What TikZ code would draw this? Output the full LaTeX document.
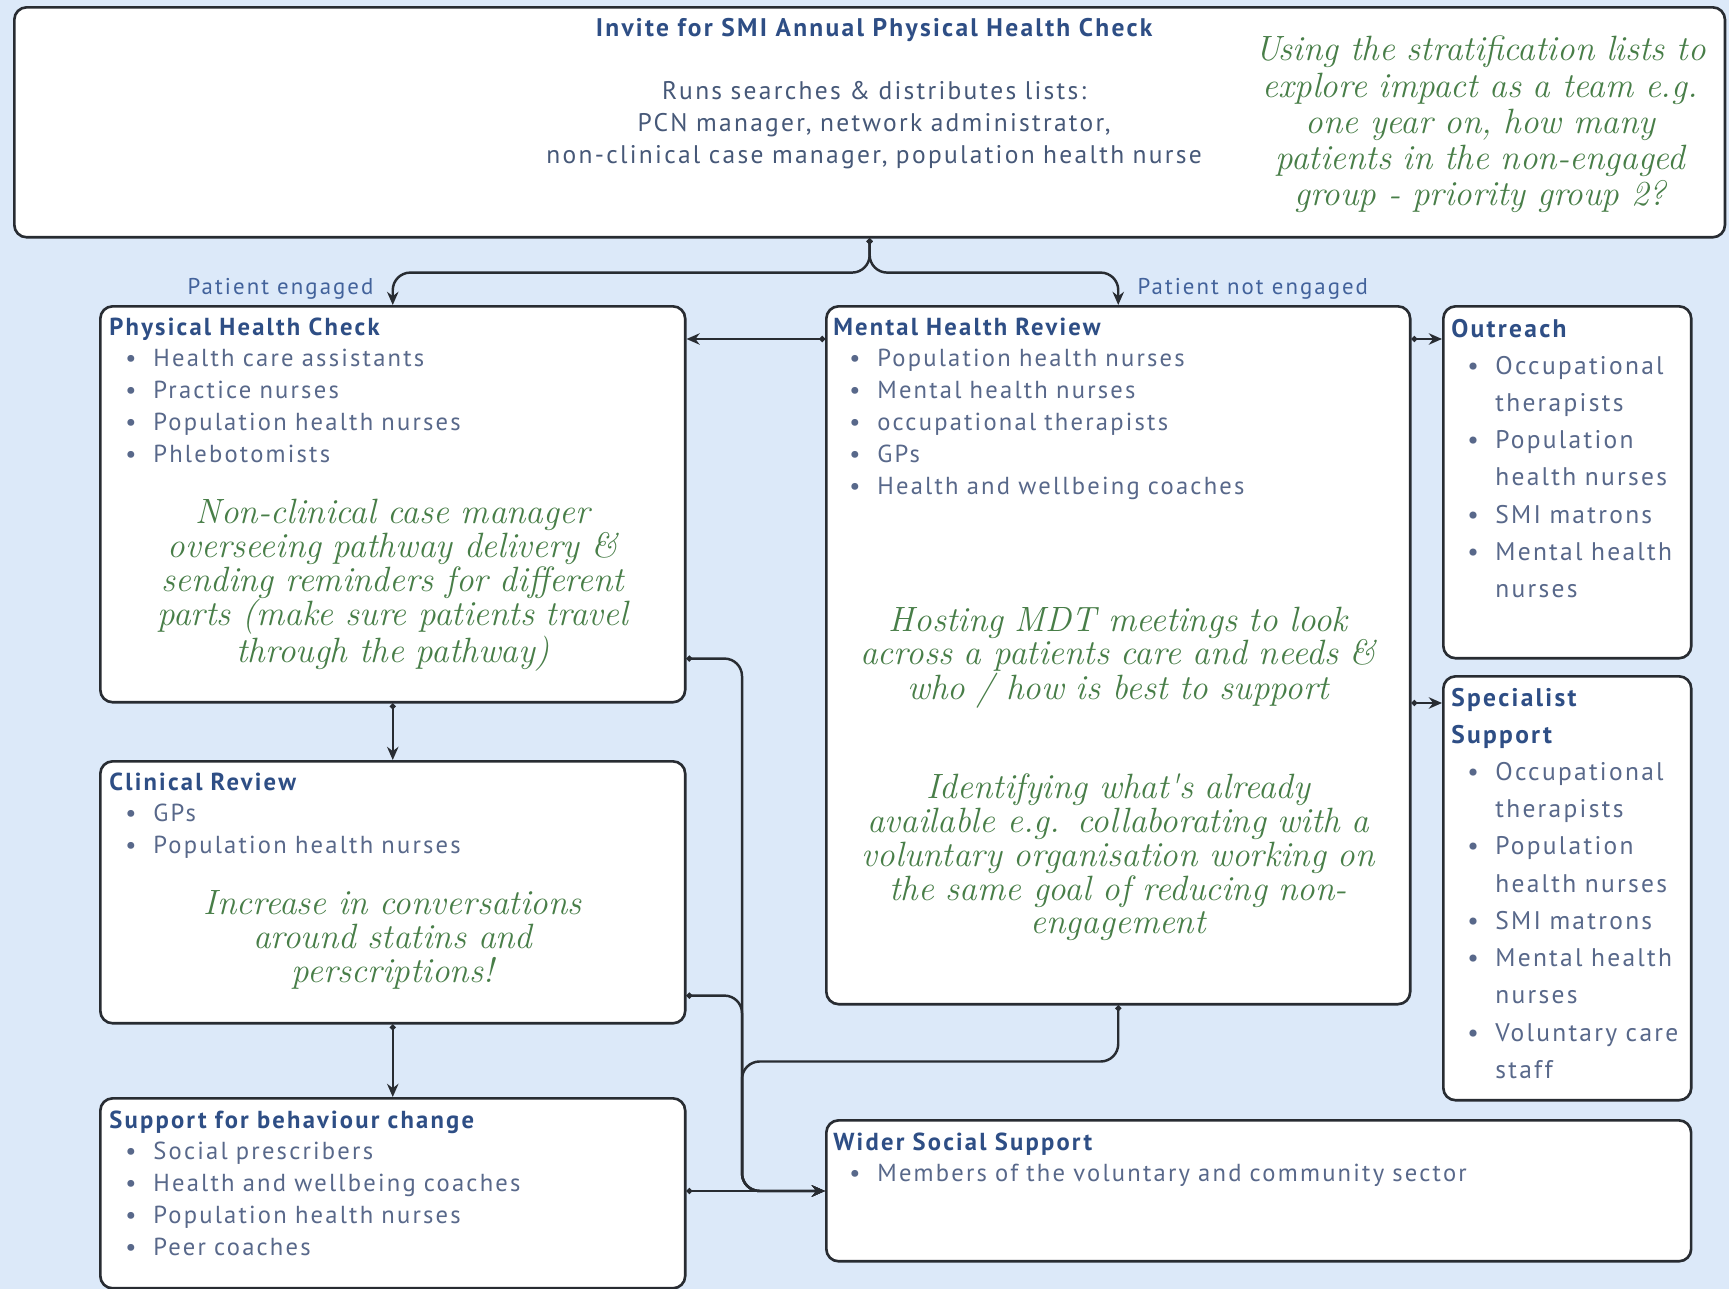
\documentclass[tikz,border=0pt]{standalone}
\usepackage{fontspec}
\setmainfont{PT Sans}[LetterSpace=9]
\newfontfamily\handfont{Latin Modern Roman}
\usetikzlibrary{positioning,arrows.meta}
\definecolor{bgblue}{RGB}{220,233,249}
\definecolor{edgec}{RGB}{40,44,50}
\definecolor{headc}{RGB}{46,78,133}
\definecolor{itemc}{RGB}{88,104,138}
\definecolor{topc}{RGB}{70,88,120}
\definecolor{lblc}{RGB}{66,98,155}
\definecolor{notec}{RGB}{72,126,72}
\lineskiplimit=-20pt
\newcommand{\hd}[1]{\textcolor{headc}{\bfseries #1}}
\newcommand{\bul}{\hspace*{0.32cm}\makebox[0.56cm][l]{\textbullet}}
\newcommand{\cont}{\hspace*{0.88cm}}
\tikzset{box/.style={draw=edgec,line width=1.5pt,rounded corners=7pt,fill=white,anchor=north west,inner sep=0pt},
  txt/.style={anchor=base west,inner sep=0pt,align=left,text width=12cm,text=itemc,font=\fontsize{14}{18.2}\selectfont},
  sidetxt/.style={txt,text width=6cm,font=\fontsize{14.5}{21.2}\selectfont},
  note/.style={anchor=base,inner sep=0pt,align=center,text width=13cm,text=notec,
    font=\handfont\itshape\fontsize{20}{19.2}\selectfont},
  lbl/.style={inner sep=0pt,text=lblc,font=\fontsize{13}{16}\selectfont},
  conn/.style={draw=edgec,line width=1.4pt,rounded corners=10pt,-{Stealth[length=7.5pt,width=6.5pt]}},
  dotconn/.style={conn,{Circle[length=3.2pt]}-{Stealth[length=7.5pt,width=6.5pt]}},
}

\begin{document}
\begin{tikzpicture}[x=0.02cm,y=-0.02cm]
\fill[bgblue] (0,0) rectangle (1729,1289);
\useasboundingbox (0,0) rectangle (1729,1289);

% boxes
\node[box,minimum width=34.22cm,minimum height=4.6cm] (top) at (13,6) {};
\node[box,minimum width=11.7cm,minimum height=7.92cm] (phc) at (99,305) {};
\node[box,minimum width=11.7cm,minimum height=5.24cm] (clin) at (99,760) {};
\node[box,minimum width=11.7cm,minimum height=3.8cm] (sbc) at (99,1097) {};
\node[box,minimum width=11.68cm,minimum height=13.96cm] (mhr) at (825,305) {};
\node[box,minimum width=4.96cm,minimum height=7.04cm] (out) at (1442,305) {};
\node[box,minimum width=4.96cm,minimum height=8.48cm] (spec) at (1442,675) {};
\node[box,minimum width=17.3cm,minimum height=2.82cm] (wider) at (825,1119) {};

% top box
\node[txt,anchor=base,align=center,text width=18cm,text=topc,font=\fontsize{14.5}{18.2}\selectfont] (toptxt)
  at ([xshift=0.09cm,yshift=-0.6cm]top.north)
  {\hd{Invite for SMI Annual Physical Health Check}\\[18.2pt]
   Runs searches \& distributes lists:\\
   PCN manager, network administrator,\\
   non-clinical case manager, population health nurse};
\node[note,text width=11cm,font=\handfont\itshape\fontsize{20}{20.5}\selectfont] (topnote)
  at ([xshift=-4.92cm,yshift=-1.1cm]top.north east)
  {Using the stratification lists to\\
   explore impact as a team e.g.\\
   one year on, how many\\
   patients in the non-engaged\\
   group - priority group 2?};

% left column
\node[txt] (phctxt) at ([xshift=0.2cm,yshift=-0.6cm]phc.north west)
  {\hd{Physical Health Check}\\
   \bul Health care assistants\\
   \bul Practice nurses\\
   \bul Population health nurses\\
   \bul Phlebotomists};
\node[note] (phcnote) at ([yshift=-4.38cm]phc.north)
  {Non-clinical case manager\\
   overseeing pathway delivery \&\\
   sending reminders for different\\
   parts (make sure patients travel\\
   through the pathway)};
\node[txt] (clintxt) at ([xshift=0.2cm,yshift=-0.6cm]clin.north west)
  {\hd{Clinical Review}\\
   \bul GPs\\
   \bul Population health nurses};
\node[note] (clinnote) at ([yshift=-3.1cm]clin.north)
  {Increase in conversations\\
   around statins and\\
   perscriptions!};
\node[txt] (sbctxt) at ([xshift=0.2cm,yshift=-0.62cm]sbc.north west)
  {\hd{Support for behaviour change}\\
   \bul Social prescribers\\
   \bul Health and wellbeing coaches\\
   \bul Population health nurses\\
   \bul Peer coaches};

% middle column
\node[txt] (mhrtxt) at ([xshift=0.16cm,yshift=-0.6cm]mhr.north west)
  {\hd{Mental Health Review}\\
   \bul Population health nurses\\
   \bul Mental health nurses\\
   \bul occupational therapists\\
   \bul GPs\\
   \bul Health and wellbeing coaches};
\node[note,font=\handfont\itshape\fontsize{20}{18.5}\selectfont] (mdtnote) at ([yshift=-6.54cm]mhr.north)
  {Hosting MDT meetings to look\\
   across a patients care and needs \&\\
   who / how is best to support};
\node[note] (vcsnote) at ([yshift=-9.88cm]mhr.north)
  {Identifying what's already\\
   available e.g. collaborating with a\\
   voluntary organisation working on\\
   the same goal of reducing non-\\
   engagement};
\node[txt,text width=16cm] (widertxt) at ([xshift=0.16cm,yshift=-0.62cm]wider.north west)
  {\hd{Wider Social Support}\\
   \bul Members of the voluntary and community sector};

% right column
\node[sidetxt] (outtxt) at ([xshift=0.18cm,yshift=-0.64cm]out.north west)
  {\hd{Outreach}\\
   \bul Occupational\\ \cont therapists\\
   \bul Population\\ \cont health nurses\\
   \bul SMI matrons\\
   \bul Mental health\\ \cont nurses};
\node[sidetxt] (spectxt) at ([xshift=0.18cm,yshift=-0.62cm]spec.north west)
  {\hd{Specialist}\\ \hd{Support}\\
   \bul Occupational\\ \cont therapists\\
   \bul Population\\ \cont health nurses\\
   \bul SMI matrons\\
   \bul Mental health\\ \cont nurses\\
   \bul Voluntary care\\ \cont staff};

% connectors
\coordinate (split) at ([yshift=-0.68cm]top.south);
\draw[dotconn] (top.south) -- (split) -| (phc.north);
\draw[dotconn] (top.south) -- (split) -| (mhr.north);
\node[lbl,above left=0.1cm and 0.38cm of phc.north] (engaged) {Patient engaged};
\node[lbl,above right=0.1cm and 0.38cm of mhr.north] (notengaged) {Patient not engaged};

\draw[dotconn] ([yshift=-0.68cm]mhr.north west) -- ([yshift=-0.68cm]phc.north east);
\draw[dotconn] ([yshift=-0.68cm]mhr.north east) -- ([yshift=-0.68cm]out.north west);
\coordinate (specin) at ([yshift=-0.56cm]spec.north west);
\draw[dotconn] (specin -| mhr.east) -- (specin);
\draw[dotconn] (phc.south) -- (clin.north);
\draw[dotconn] (clin.south) -- (sbc.north);

\coordinate (win) at ([yshift=-1.44cm]wider.north west);
\coordinate (bus) at ([xshift=-1.66cm]win);
\coordinate (mturn) at ([yshift=-1.12cm]mhr.south);
\draw[dotconn] ([yshift=0.9cm]phc.south east) -| (bus) -- (win);
\draw[dotconn] ([yshift=0.58cm]clin.south east) -| (bus) -- (win);
\draw[dotconn] (mhr.south) -- (mturn) -| (bus) -- (win);
\draw[dotconn] (sbc.east |- win) -- (win);
\end{tikzpicture}
\end{document}
